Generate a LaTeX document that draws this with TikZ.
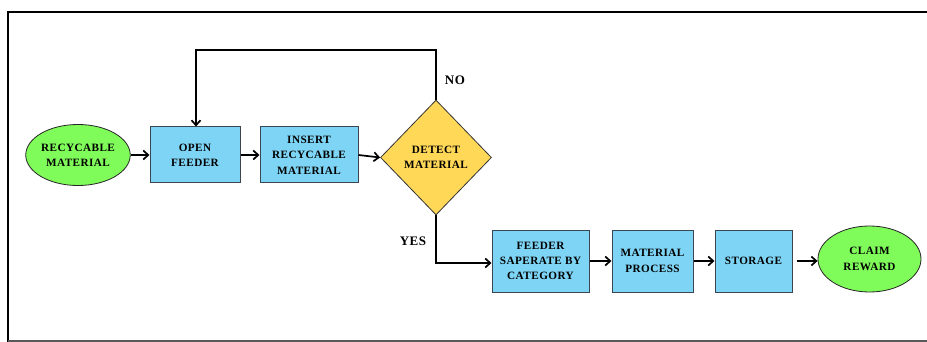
\documentclass[tikz,border=0pt]{standalone}
\usepackage{fontspec}
\setmainfont{Liberation Serif}[LetterSpace=4]
\usetikzlibrary{shapes.geometric,arrows.meta}
\definecolor{fgreen}{RGB}{128,252,90}
\definecolor{fblue}{RGB}{126,212,244}
\definecolor{fyellow}{RGB}{255,216,88}
\definecolor{fedge}{RGB}{60,70,80}
\tikzset{
  lbl/.style={font=\fontsize{11.2}{15.3}\selectfont\bfseries, align=center, text=black},
  term/.style={lbl, ellipse, draw=black!85, line width=0.8pt, fill=fgreen, inner sep=0pt},
  proc/.style={lbl, rectangle, draw=fedge, line width=1pt, fill=fblue, inner sep=0pt},
  decis/.style={lbl, diamond, draw=black!80, line width=0.8pt, fill=fyellow, inner sep=0pt},
  flow/.style={line width=1.7pt, -{Straight Barb[length=5pt,width=9pt,line width=1.7pt]}},
  side/.style={font=\fontsize{13}{15}\selectfont\bfseries}
}
\begin{document}
\begin{tikzpicture}[x=1pt,y=-1pt]
\useasboundingbox (0,0) rectangle (927,342);
\fill[white] (0,0) rectangle (927,342);
% frame
\draw[line width=2pt] (8,342) -- (8,12) -- (930,12);
\draw[line width=1.2pt, black!65] (8,341) -- (930,341);

\node[term, minimum width=104pt, minimum height=61pt] (rm) at (78,155) {RECYCABLE\\MATERIAL};
\node[proc, minimum width=90pt, minimum height=56pt] (of) at (195,155) {OPEN\\FEEDER};
\node[proc, minimum width=98pt, minimum height=56pt] (ins) at (309,155) {INSERT\\RECYCABLE\\MATERIAL};
\node[decis, minimum width=111pt, minimum height=115pt] (det) at (436,157.5) {DETECT\\MATERIAL};
\node[proc, minimum width=97pt, minimum height=62pt] (fs) at (540.5,261) {FEEDER\\SAPERATE BY\\CATEGORY};
\node[proc, minimum width=81pt, minimum height=62pt] (mp) at (652.5,261) {MATERIAL\\PROCESS};
\node[proc, minimum width=77pt, minimum height=62pt] (st) at (753.5,261) {STORAGE};
\node[term, minimum width=103pt, minimum height=66pt] (cr) at (869.5,259) {CLAIM\\REWARD};

\coordinate (loopA) at (436,50);
\coordinate (loopB) at (196,50);
\coordinate (yesC) at (436,263);

\draw[flow] (rm.east) -- (of.west);
\draw[flow] (of.east) -- (ins.west);
\draw[flow] (ins.east) -- (det.west);
\draw[flow] (det.north) -- (loopA) -- (loopB) -- (of.north -| loopB);
\draw[flow] (det.south) -- (yesC) -- (yesC -| fs.west);
\draw[flow] (fs.east) -- (mp.west);
\draw[flow] (mp.east) -- (st.west);
\draw[flow, shorten <=4pt] (st.east) -- (st.east -| cr.west);

\node[side] (no) at (455,80) {NO};
\node[side] (yes) at (413,241) {YES};
\end{tikzpicture}
\end{document}
